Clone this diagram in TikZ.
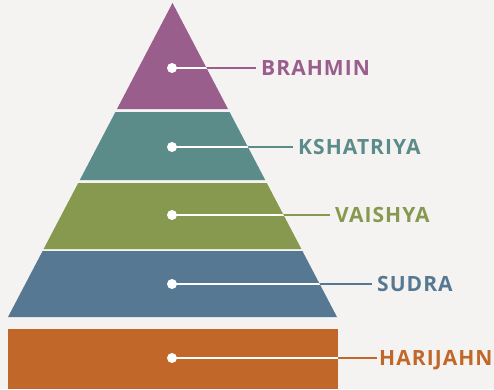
\documentclass[tikz,border=0pt]{standalone}
\usepackage{fontspec}
\setmainfont{Open Sans}
\newfontfamily\lblfont[LetterSpace=5]{Open Sans}
\definecolor{bg}{HTML}{F4F3F1}
\definecolor{cbrah}{HTML}{9A5E8C}
\definecolor{cksha}{HTML}{5B8C8A}
\definecolor{cvais}{HTML}{87994E}
\definecolor{csud}{HTML}{577892}
\definecolor{chari}{HTML}{C2672A}
\tikzset{
  dotnode/.style={circle,fill=white,minimum size=10pt,inner sep=0pt},
  lbl/.style={anchor=west,inner xsep=5pt,inner ysep=0pt,font=\lblfont\fontsize{21}{21}\selectfont\bfseries,text height=15pt,text depth=0pt},
  lead/.style={line width=2.2pt},
}
\begin{document}
\begin{tikzpicture}[x=1pt,y=-1pt]
\fill[bg] (0,0) rectangle (494,389);
\useasboundingbox (0,0) rectangle (494,389);
% layer shapes
\def\brah{(172.5,3) -- (228,109) -- (117,109) -- cycle}
\def\ksha{(115.4,112) -- (229.6,112) -- (265.2,180) -- (79.8,180) -- cycle}
\def\vais{(78.2,183) -- (266.8,183) -- (301.4,249) -- (43.6,249) -- cycle}
\def\sud{(42.6,251) -- (302.4,251) -- (337,317) -- (8,317) -- cycle}
\def\hari{(8,329) rectangle (338,389)}
\fill[cbrah] \brah;
\fill[cksha] \ksha;
\fill[cvais] \vais;
\fill[csud] \sud;
\fill[chari] \hari;
% leaders
\coordinate (e1) at (256,68);
\coordinate (e2) at (293,147);
\coordinate (e3) at (330,215);
\coordinate (e4) at (372,284);
\coordinate (e5) at (377,358);
\node[dotnode] (d1) at (172,68) {};
\node[dotnode] (d2) at (172,147) {};
\node[dotnode] (d3) at (172,215) {};
\node[dotnode] (d4) at (172,284) {};
\node[dotnode] (d5) at (172,358) {};
\draw[lead,cbrah] (d1.center) -- (e1);
\draw[lead,cksha] (d2.center) -- (e2);
\draw[lead,cvais] (d3.center) -- (e3);
\draw[lead,csud] (d4.center) -- (e4);
\draw[lead,chari] (d5.center) -- (e5);
\begin{scope}\clip \brah; \draw[lead,white] (d1.center) -- (e1); \end{scope}
\begin{scope}\clip \ksha; \draw[lead,white] (d2.center) -- (e2); \end{scope}
\begin{scope}\clip \vais; \draw[lead,white] (d3.center) -- (e3); \end{scope}
\begin{scope}\clip \sud; \draw[lead,white] (d4.center) -- (e4); \end{scope}
\begin{scope}\clip \hari; \draw[lead,white] (d5.center) -- (e5); \end{scope}
\node[lbl,text=cbrah] (t1) at (e1) {BRAHMIN};
\node[lbl,text=cksha] (t2) at (e2) {KSHATRIYA};
\node[lbl,text=cvais] (t3) at (e3) {VAISHYA};
\node[lbl,text=csud] (t4) at (e4) {SUDRA};
\node[lbl,text=chari,inner xsep=2pt] (t5) at (e5) {HARIJAHN};
\end{tikzpicture}
\end{document}
